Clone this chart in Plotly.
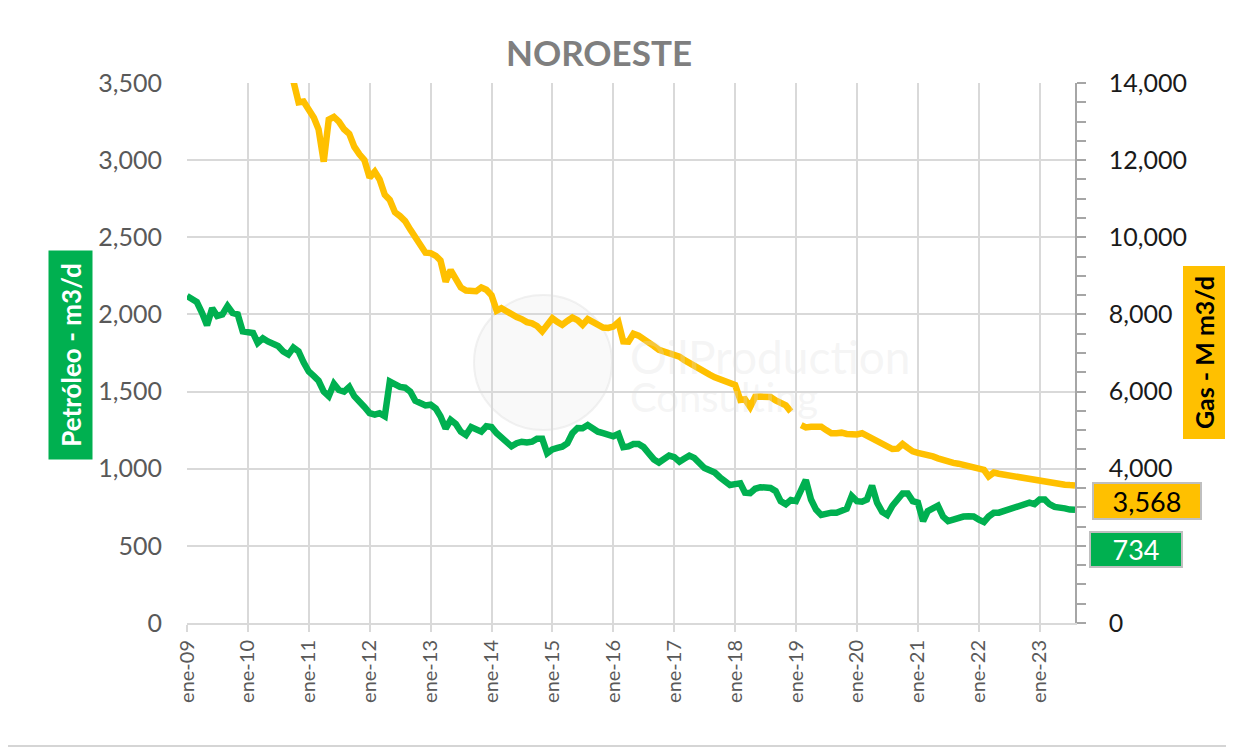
import pandas as pd
import plotly.graph_objects as go

# ---- data (monthly, ene-09 .. ago-23) ----
start_month = "2009-01-01"
oil = [2120, 2100, 2080, 2010, 1930, 2040, 1990, 2000, 2054, 2010, 2000, 1890,
       1880, 1880, 1815, 1845, 1825, 1810, 1795, 1760, 1740, 1785, 1760, 1690,
       1630, 1600, 1570, 1500, 1470, 1550, 1510, 1500, 1530, 1470, 1440, 1400,
       1360, 1350, 1360, 1340, 1565, 1545, 1530, 1525, 1500, 1440, 1420, 1410,
       1415, 1390, 1340, 1260, 1316, 1290, 1240, 1218, 1270, 1255, 1240, 1275,
       1270, 1230, 1200, 1170, 1145, 1165, 1175, 1170, 1175, 1195, 1195, 1100,
       1125, 1135, 1143, 1165, 1230, 1264, 1262, 1283, 1255, 1240, 1230, 1220,
       1210, 1225, 1140, 1145, 1160, 1160, 1140, 1100, 1060, 1040, 1060, 1085,
       1075, 1045, 1065, 1085, 1070, 1030, 1005, 990, 975, 945, 920, 894,
       900, 905, 845, 842, 870, 880, 878, 875, 855, 790, 770, 797,
       790, 870, 927, 800, 735, 700, 712, 715, 715, 728, 740, 823,
       790, 786, 800, 890, 780, 720, 700, 760, 800, 840, 840, 790,
       780, 660, 725, 745, 760, 690, 660, 670, 685, 690, 692, 690,
       670, 655, 690, 714, 715, 725, 735, 745, 755, 775, 780, 771,
       800, 800, 770, 752, 750, 743, 735, 734]

gas = [17600, 17500, 17300, 17350, 17100, 16900, 16950, 16700, 16500, 16400, 16250, 16000,
       15900, 15700, 15650, 15400, 15200, 15100, 14900, 14700, 14500, 14050, 13500, 13520,
       13300, 13100, 12800, 11960, 13050, 13120, 13000, 12800, 12680, 12350, 12150, 12000,
       11550, 11700, 11500, 11100, 10970, 10650, 10550, 10420, 10200, 10000, 9800, 9600,
       9590, 9520, 9400, 8850, 9150, 8900, 8700, 8620, 8590, 8600, 8700, 8640,
       8500, 8100, 8160, 8080, 7980, 7930, 7880, 7800, 7770, 7700, 7560, 7750,
       7900, 7800, 7730, 7830, 7920, 7850, 7730, 7880, 7820, 7760, 7660, 7650,
       7684, 7800, 7300, 7295, 7500, 7450, 7370, 7300, 7180, 7080, 7040, 6970,
       6940, 6906, 6820, 6734, 6660, 6590, 6510, 6440, 6370, 6330, 6290, 6230,
       6172, 5783, 5800, 5600, 5860, 5870, 5870, 5860, 5770, 5720, 5640, 5480,
       None, 5130, 5070, 5090, 5100, 5090, 5000, 4920, 4920, 4935, 4900, 4880,
       4890, 4920, 4850, 4763, 4700, 4630, 4570, 4510, 4520, 4640, 4540, 4450,
       4410, 4390, 4360, 4320, 4270, 4220, 4180, 4150, 4130, 4090, 4050, 4030,
       3990, 3970, 3800, 3900, 3870, 3845, 3830, 3810, 3794, 3770, 3750, 3720,
       3708, 3680, 3650, 3620, 3600, 3585, 3575, 3568]

tick_dates = ["2009-01-01", "2010-01-01", "2011-01-01", "2012-01-01", "2013-01-01",
              "2014-01-01", "2015-01-01", "2016-01-01", "2017-01-01", "2018-01-01",
              "2019-01-01", "2020-01-01", "2021-01-01", "2022-01-01", "2023-01-01"]
tick_labels = ["ene-09", "ene-10", "ene-11", "ene-12", "ene-13", "ene-14", "ene-15",
               "ene-16", "ene-17", "ene-18", "ene-19", "ene-20", "ene-21", "ene-22",
               "ene-23"]

dates = pd.date_range(start_month, periods=len(oil), freq="MS")

GREEN = "#00B050"
ORANGE = "#FFC000"
GRID = "#d9d9d9"
FONT = "Lato"

fig = go.Figure()
fig.add_trace(go.Scatter(x=dates, y=oil, mode="lines", name="Petróleo",
                         line=dict(color=GREEN, width=6.5), yaxis="y"))
fig.add_trace(go.Scatter(x=dates, y=gas, mode="lines", name="Gas",
                         line=dict(color=ORANGE, width=6.5), yaxis="y2",
                         connectgaps=False))

# page body adds an 8px offset; figure coordinates below are reference-pixel based
OFF = 8
W, H = 1234 - OFF, 750 - OFF
L0, T0 = 187, 83          # plot area top-left in reference pixels
PW, PH = 888, 540


def px(x):
    return (x - L0) / PW


def py(y):
    return (T0 + PH - y) / PH


fig.update_layout(
    width=W, height=H,
    margin=dict(l=L0 - OFF, r=W - (L0 - OFF) - PW, t=T0 - OFF, b=H - (T0 - OFF) - PH),
    paper_bgcolor="white", plot_bgcolor="white",
    showlegend=False,
    font=dict(family=FONT, color="#595959"),
    title=dict(text="<b>NOROESTE</b>", x=(599 - OFF) / W, xanchor="center",
               y=1 - (54 - OFF) / H, yanchor="middle", xref="container", yref="container",
               font=dict(size=35, color="#7f7f7f", family=FONT)),
    xaxis=dict(type="date", range=[dates[0], dates[-1]],
               tickvals=tick_dates, ticktext=tick_labels, tickangle=-90,
               showgrid=True, gridcolor=GRID, gridwidth=2,
               showline=True, linecolor=GRID, linewidth=2,
               ticks="outside", ticklen=7, tickcolor=GRID, tickwidth=2,
               tickfont=dict(size=20, color="#595959"), zeroline=False),
    yaxis=dict(range=[0, 3500], dtick=500, tickformat=",",
               showgrid=True, gridcolor=GRID, gridwidth=2,
               showline=False, zeroline=False, ticks="",
               tickfont=dict(size=25, color="#595959"), ticklabelstandoff=24),
    yaxis2=dict(range=[0, 14000], dtick=2000, tickformat=",", overlaying="y",
                side="right", showgrid=False, zeroline=False,
                showline=True, linecolor="#a6a6a6", linewidth=1.5,
                ticks="outside", ticklen=9, tickcolor="#a6a6a6", tickwidth=1.5,
                minor=dict(dtick=500, ticks="outside", ticklen=9,
                           tickcolor="#a6a6a6", tickwidth=1.5, showgrid=False),
                tickfont=dict(size=25, color="#1a1a1a"), ticklabelstandoff=18),
)

# outer chart border
fig.add_shape(type="rect", xref="paper", yref="paper",
              x0=px(1.5), x1=px(1232), y0=py(746), y1=py(1.5),
              line=dict(color="#c8c8c8", width=1.5), fillcolor="rgba(0,0,0,0)",
              layer="below")

# faint watermark
fig.add_shape(type="circle", xref="paper", yref="paper",
              x0=px(474), x1=px(612), y0=py(430), y1=py(295),
              line=dict(color="rgba(228,228,228,0.5)", width=2),
              fillcolor="rgba(238,238,238,0.35)", layer="below")
fig.add_annotation(text="OilProduction", xref="paper", yref="paper",
                   x=px(628), y=py(356), xanchor="left", yanchor="middle",
                   showarrow=False, font=dict(size=46, color="rgba(220,220,220,0.3)"))
fig.add_annotation(text="Consulting", xref="paper", yref="paper",
                   x=px(628), y=py(397), xanchor="left", yanchor="middle",
                   showarrow=False, font=dict(size=40, color="rgba(220,220,220,0.3)"))

# axis title boxes
fig.add_annotation(text="<b>Petróleo - m3/d</b>", xref="paper", yref="paper",
                   x=px(70), y=py(355), xanchor="center", yanchor="middle",
                   textangle=-90, showarrow=False,
                   bgcolor=GREEN, width=206, height=41, borderpad=1,
                   font=dict(size=26, color="white", family=FONT))
fig.add_annotation(text="<b>Gas - M m3/d</b>", xref="paper", yref="paper",
                   x=px(1203.5), y=py(353), xanchor="center", yanchor="middle",
                   textangle=-90, showarrow=False,
                   bgcolor=ORANGE, width=170, height=39, borderpad=1,
                   font=dict(size=25, color="black", family=FONT))

# last value labels
fig.add_annotation(text=f"{gas[-1]:,}", xref="paper", yref="paper",
                   x=px(1147), y=py(501), xanchor="center", yanchor="middle",
                   showarrow=False,
                   bgcolor=ORANGE, bordercolor="#bfbfbf", borderwidth=2, borderpad=0,
                   width=106, height=34, align="center",
                   font=dict(size=27, color="black", family=FONT))
fig.add_annotation(text=f"{oil[-1]:,}", xref="paper", yref="paper",
                   x=px(1136), y=py(549.5), xanchor="center", yanchor="middle",
                   showarrow=False,
                   bgcolor=GREEN, bordercolor="#bfbfbf", borderwidth=2, borderpad=0,
                   width=90, height=33, align="center",
                   font=dict(size=27, color="white", family=FONT))

fig.write_html("out.html")
